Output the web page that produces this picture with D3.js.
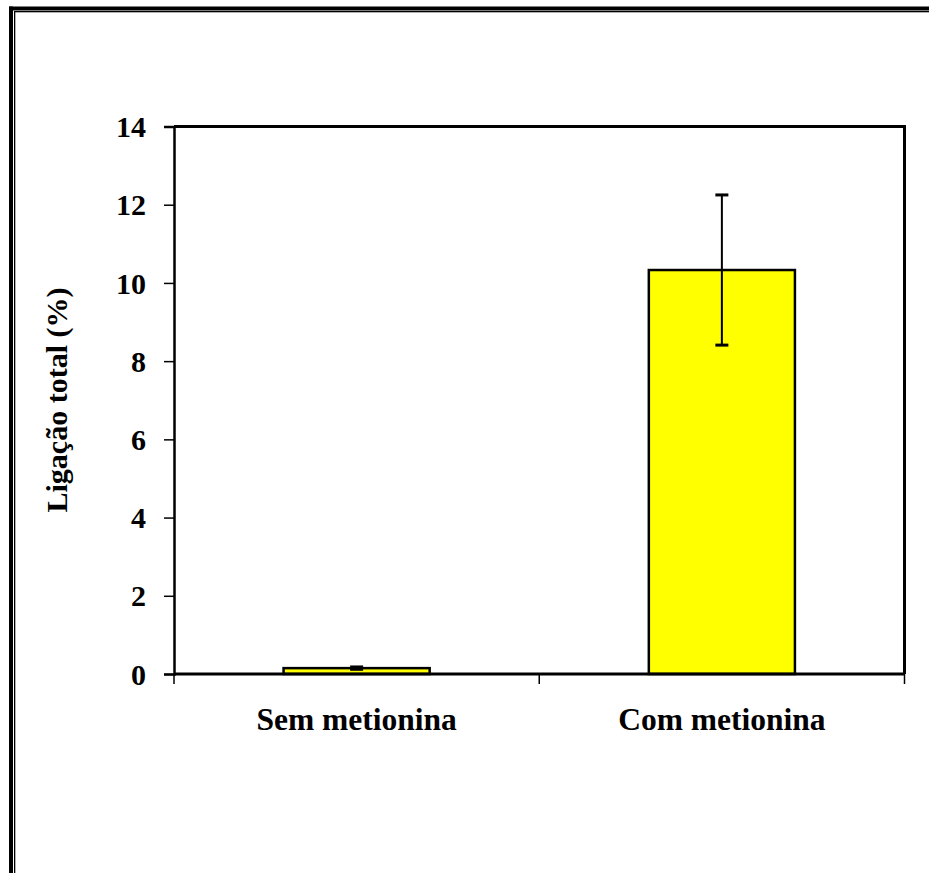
<!DOCTYPE html>
<html>
<head>
<meta charset="utf-8">
<script src="https://cdn.jsdelivr.net/npm/d3@7/dist/d3.min.js"></script>
<style>
  html, body { margin: 0; padding: 0; background: #fff; }
  svg { display: block; }
  text { font-family: "Liberation Serif", "Times New Roman", serif; font-weight: bold; fill: #000; }
</style>
</head>
<body>
<svg id="chart" width="929" height="873"></svg>
<script>
// Data
const categories = ["Sem metionina", "Com metionina"];
const means = [0.15, 10.33];
const errors = [0.03, 1.92];
const yTicks = [0, 2, 4, 6, 8, 10, 12, 14];
const yLabel = "Ligação total (%)";

(function () {
  const W = 929, H = 873;
  const svg = d3.select("#chart");

  // Outer double frame (top and left edges)
  const frame = svg.append("g");
  frame.append("rect").attr("x", 9).attr("y", 6.5).attr("width", W - 9).attr("height", 4).attr("fill", "#000");
  frame.append("rect").attr("x", 9).attr("y", 6.5).attr("width", 4).attr("height", H - 6.5).attr("fill", "#000");
  frame.append("rect").attr("x", 14).attr("y", 11).attr("width", W - 14).attr("height", 1.3).attr("fill", "#000");
  frame.append("rect").attr("x", 14).attr("y", 11).attr("width", 1.3).attr("height", H - 11).attr("fill", "#000");

  // Plot area
  const pl = 174, pr = 904.5, pt = 126.5, pb = 674;

  const x = d3.scaleBand().domain(categories).range([pl, pr]).paddingInner(0).paddingOuter(0);
  const y = d3.scaleLinear().domain([0, 14]).range([pb, pt]);
  const barW = x.bandwidth() * 0.4;

  // Bars
  svg.append("g").selectAll("rect")
    .data(categories)
    .join("rect")
    .attr("x", (d) => x(d) + (x.bandwidth() - barW) / 2)
    .attr("y", (d, i) => y(means[i]))
    .attr("width", barW)
    .attr("height", (d, i) => y(0) - y(means[i]))
    .attr("fill", "#ffff00")
    .attr("stroke", "#000")
    .attr("stroke-width", 2.5);

  // Error bars
  const eb = svg.append("g").attr("stroke", "#000");
  categories.forEach((c, i) => {
    const cx = x(c) + x.bandwidth() / 2;
    const hi = y(means[i] + errors[i]), lo = y(means[i] - errors[i]);
    eb.append("line").attr("x1", cx).attr("x2", cx).attr("y1", hi).attr("y2", lo).attr("stroke-width", 2);
    eb.append("line").attr("x1", cx - 6.5).attr("x2", cx + 6.5).attr("y1", hi).attr("y2", hi).attr("stroke-width", 3);
    eb.append("line").attr("x1", cx - 6.5).attr("x2", cx + 6.5).attr("y1", lo).attr("y2", lo).attr("stroke-width", 3);
  });

  // Plot border (top and right)
  svg.append("path")
    .attr("d", `M${pl},${pt}H${pr}V${pb}`)
    .attr("fill", "none").attr("stroke", "#000").attr("stroke-width", 3);

  // Y axis
  const yAxis = svg.append("g")
    .attr("transform", `translate(${pl},0)`)
    .call(d3.axisLeft(y).tickValues(yTicks).tickSize(10).tickPadding(18).tickFormat(d3.format("d")));
  yAxis.select(".domain").attr("stroke-width", 2.5);
  yAxis.selectAll(".tick line").attr("stroke-width", 1.5);
  yAxis.selectAll(".tick text")
    .attr("font-family", "'Liberation Serif', 'Times New Roman', serif")
    .attr("font-weight", "bold")
    .attr("font-size", 30)
    .attr("dy", "0.34em");

  // X axis line with ticks at category boundaries
  const xAxis = svg.append("g");
  xAxis.append("line").attr("x1", pl).attr("x2", pr).attr("y1", pb).attr("y2", pb)
    .attr("stroke", "#000").attr("stroke-width", 3);
  const bounds = categories.map((c) => x(c)).concat([x(categories[categories.length - 1]) + x.bandwidth()]);
  xAxis.selectAll("line.tk").data(bounds).join("line").attr("class", "tk")
    .attr("x1", (d) => d).attr("x2", (d) => d)
    .attr("y1", pb).attr("y2", pb + 10)
    .attr("stroke", "#000").attr("stroke-width", 1.5);
  xAxis.selectAll("text").data(categories).join("text")
    .attr("x", (d) => x(d) + x.bandwidth() / 2)
    .attr("y", 730)
    .attr("text-anchor", "middle")
    .attr("font-size", 31.5)
    .text((d) => d);

  // Y axis title
  svg.append("text")
    .attr("transform", `translate(67,400) rotate(-90)`)
    .attr("text-anchor", "middle")
    .attr("font-size", 30)
    .text(yLabel);
})();
</script>
</body>
</html>
